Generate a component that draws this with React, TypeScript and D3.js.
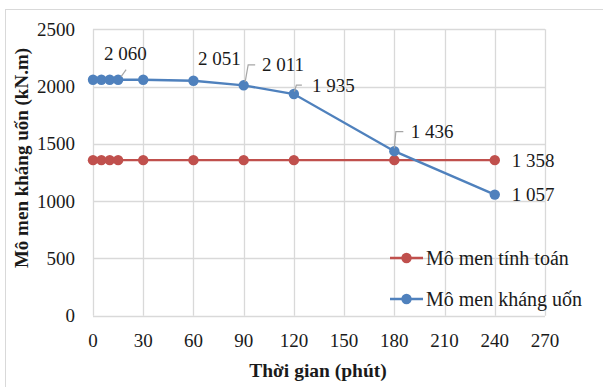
import * as d3 from "d3";

const minutes = [0, 5, 10, 15, 30, 60, 90, 120, 180, 240];
const calcMoment = [1358, 1358, 1358, 1358, 1358, 1358, 1358, 1358, 1358, 1358];
const resistMoment = [2060, 2060, 2060, 2060, 2060, 2051, 2011, 1935, 1436, 1057];
const xTicks = [0, 30, 60, 90, 120, 150, 180, 210, 240, 270];
const yTicks = [0, 500, 1000, 1500, 2000, 2500];
const seriesNames = ["Mô men tính toán", "Mô men kháng uốn"];

// data label placement (Excel labels dragged by hand, some with leader lines)
const labelSpots = [
  { s: 1, i: 3, dx: -14, dy: -19.5, leader: [[3, -3], [8, -10]] },
  { s: 1, i: 5, dx: 4.6, dy: -15.6, leader: null },
  { s: 1, i: 6, dx: 18.4, dy: -14.8, leader: [[1.5, -3.5], [4.5, -20.5], [11.5, -20.5]] },
  { s: 1, i: 7, dx: 18, dy: -2.2, leader: [[0.5, -2.5], [2.5, -9], [8, -9]] },
  { s: 1, i: 8, dx: 16.5, dy: -12.8, leader: [[0, -3], [1.5, -19.5], [9, -19.5]] },
  { s: 1, i: 9, dx: 17, dy: 6.5, leader: null },
  { s: 0, i: 9, dx: 17, dy: 7, leader: null },
];

const W = 603;
const H = 387;
const FONT = "Liberation Serif";
const FS = 19;
const GRID = "#d9d9d9";
const INK = "#1a1a1a";
const colors = ["#c0504d", "#4f81bd"];

const fmt = d3
  .formatLocale({ decimal: ",", thousands: " ", grouping: [3], currency: ["", ""] })
  .format(",d");

export default function App() {
  const x = d3.scaleLinear().domain([0, 270]).range([93, 545]);
  const y = d3.scaleLinear().domain([0, 2500]).range([315.7, 29.3]);
  const series = [calcMoment, resistMoment];
  const line = d3
    .line<number>()
    .x((_, i) => x(minutes[i]))
    .y((d) => y(d));
  const snap = (v: number) => Math.round(v) + 0.5;

  return (
    <svg
      width={W}
      height={H}
      style={{ position: "absolute", left: 0, top: 0, background: "#fff" }}
    >
      {/* outer chart frame */}
      <rect x={5.5} y={9.5} width={640} height={420} fill="#fff" stroke={GRID} />

      {/* grid */}
      {yTicks.map((t) => (
        <line key={"gy" + t} x1={x(0)} x2={x(270)} y1={snap(y(t))} y2={snap(y(t))} stroke={GRID} strokeWidth={1.3} />
      ))}
      {xTicks.map((t) => (
        <line key={"gx" + t} x1={snap(x(t))} x2={snap(x(t))} y1={y(0)} y2={y(2500)} stroke={GRID} strokeWidth={1.3} />
      ))}

      {/* tick labels */}
      {yTicks.map((t) => (
        <text key={"ty" + t} x={75} y={y(t) + 6.5} textAnchor="end" fontFamily={FONT} fontSize={FS} fill={INK}>
          {t}
        </text>
      ))}
      {xTicks.map((t) => (
        <text key={"tx" + t} x={x(t)} y={346.5} textAnchor="middle" fontFamily={FONT} fontSize={FS} fill={INK}>
          {t}
        </text>
      ))}

      {/* axis titles */}
      <text
        transform="translate(28,158) rotate(-90)"
        textAnchor="middle"
        fontFamily={FONT}
        fontSize={19}
        fontWeight={700}
        fill={INK}
      >
        Mô men kháng uốn (kN.m)
      </text>
      <text x={318} y={376.5} textAnchor="middle" fontFamily={FONT} fontSize={19.5} fontWeight={700} fill={INK}>
        Thời gian (phút)
      </text>

      {/* series */}
      {series.map((vals, s) => (
        <g key={"s" + s}>
          <path d={line(vals) ?? ""} fill="none" stroke={colors[s]} strokeWidth={2.4} />
          {vals.map((v, i) => (
            <circle key={i} cx={x(minutes[i])} cy={y(v)} r={5.2} fill={colors[s]} />
          ))}
        </g>
      ))}

      {/* data labels */}
      {labelSpots.map((lb, k) => {
        const v = series[lb.s][lb.i];
        const px = x(minutes[lb.i]);
        const py = y(v);
        return (
          <g key={"lb" + k}>
            {lb.leader && (
              <polyline
                points={lb.leader.map((p) => `${px + p[0]},${py + p[1]}`).join(" ")}
                fill="none"
                stroke="#a6a6a6"
                strokeWidth={1.2}
              />
            )}
            <text x={px + lb.dx} y={py + lb.dy} fontFamily={FONT} fontSize={FS} fill={INK}>
              {fmt(v)}
            </text>
          </g>
        );
      })}

      {/* legend */}
      {seriesNames.map((name, s) => {
        const ly = 258 + s * 41;
        return (
          <g key={"lg" + s}>
            <line x1={390} x2={423} y1={ly} y2={ly} stroke={colors[s]} strokeWidth={2.4} />
            <circle cx={406.5} cy={ly} r={5.2} fill={colors[s]} />
            <text x={426} y={ly + 6.8} fontFamily={FONT} fontSize={20} fill={INK}>
              {name}
            </text>
          </g>
        );
      })}
    </svg>
  );
}
